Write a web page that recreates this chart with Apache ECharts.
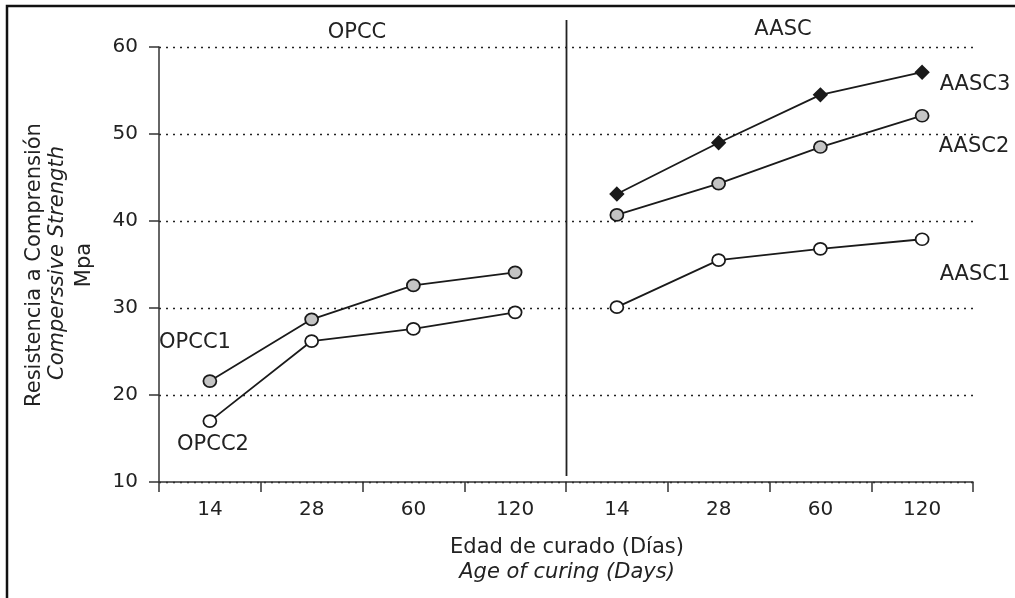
<!DOCTYPE html>
<html>
<head>
<meta charset="utf-8">
<script src="https://cdn.jsdelivr.net/npm/echarts@6/dist/echarts.min.js"></script>
<style>
html,body{margin:0;padding:0;background:#fff;}
#chart{width:1015px;height:598px;}
</style>
</head>
<body>
<div id="chart"></div>
<script>
const dayLabels = ['14', '28', '60', '120', '14', '28', '60', '120'];
const opcc1 = [21.6, 28.7, 32.6, 34.1, null, null, null, null];
const opcc2 = [17.0, 26.2, 27.6, 29.5, null, null, null, null];
const aasc3 = [null, null, null, null, 43.1, 49.0, 54.5, 57.1];
const aasc2 = [null, null, null, null, 40.7, 44.3, 48.5, 52.1];
const aasc1 = [null, null, null, null, 30.1, 35.5, 36.8, 37.9];
const yTicks = { min: 10, max: 60, interval: 10 };

const FONT = 'DejaVu Sans';
const TXT = '#222';
const chart = echarts.init(document.getElementById('chart'), null, { renderer: 'canvas' });

function lineSeries(name, data, symbol, fill, size) {
  return {
    name: name, type: 'line', data: data, symbol: symbol, symbolSize: size,
    connectNulls: false,
    lineStyle: { color: '#1a1a1a', width: 1.8 },
    itemStyle: { color: fill, borderColor: '#1a1a1a', borderWidth: 1.7 },
    animation: false, z: 3
  };
}

const option = {
  animation: false,
  backgroundColor: '#fff',
  grid: { left: 159, right: 42, top: 47, bottom: 116, containLabel: false },
  xAxis: {
    type: 'category',
    data: dayLabels.map((d, i) => String(i)),
    boundaryGap: true,
    axisLine: { lineStyle: { color: '#333', width: 1.5 } },
    axisTick: { show: true, length: 10, lineStyle: { color: '#333', width: 1.5 } },
    axisLabel: {
      formatter: (v, i) => dayLabels[i],
      fontFamily: FONT, fontSize: 20, color: TXT, margin: 18
    },
    splitLine: { show: false }
  },
  yAxis: {
    type: 'value', min: yTicks.min, max: yTicks.max, interval: yTicks.interval,
    axisLine: { show: true, lineStyle: { color: '#333', width: 1.5 } },
    axisTick: { show: true, length: 10, lineStyle: { color: '#333', width: 1.5 } },
    axisLabel: { fontFamily: FONT, fontSize: 20, color: TXT, margin: 21 },
    splitLine: {
      show: true,
      lineStyle: { color: '#222', width: 1.3, type: [2, 5] }
    }
  },
  series: [
    lineSeries('OPCC1', opcc1, 'circle', '#c4c4c4', [13, 12]),
    lineSeries('OPCC2', opcc2, 'circle', '#ffffff', [13, 12]),
    lineSeries('AASC3', aasc3, 'diamond', '#1a1a1a', [13, 13]),
    lineSeries('AASC2', aasc2, 'circle', '#c4c4c4', [13, 12]),
    lineSeries('AASC1', aasc1, 'circle', '#ffffff', [13, 12])
  ]
};
chart.setOption(option);

// separator between the two groups (boundary between category 3 and 4)
const c3 = chart.convertToPixel({ xAxisIndex: 0 }, '3');
const c4 = chart.convertToPixel({ xAxisIndex: 0 }, '4');
const sepX = Math.round((c3 + c4) / 2) + 0.5;

function txt(x, y, s, opts) {
  return Object.assign({
    type: 'text', x: x, y: y,
    style: Object.assign({
      text: s, fontFamily: FONT, fontSize: 21, fill: TXT,
      align: 'center', verticalAlign: 'middle'
    }, (opts && opts.style) || {})
  }, opts && opts.rotation !== undefined ? { rotation: opts.rotation } : {});
}

chart.setOption({
  graphic: [
    { type: 'rect', shape: { x: 7, y: 6, width: 1100, height: 700 },
      style: { fill: null, stroke: '#111', lineWidth: 2.5 }, z: 10 },
    { type: 'line', shape: { x1: sepX, y1: 20, x2: sepX, y2: 476 },
      style: { stroke: '#222', lineWidth: 1.8 }, z: 5 },
    txt(357, 33, 'OPCC'),
    txt(783, 30, 'AASC'),
    txt(195, 343, 'OPCC1'),
    txt(213, 445, 'OPCC2'),
    txt(975, 85, 'AASC3'),
    txt(974, 147, 'AASC2'),
    txt(975, 275, 'AASC1'),
    txt(567, 548, 'Edad de curado (Días)'),
    txt(567, 573, 'Age of curing (Days)', { style: { fontStyle: 'italic' } }),
    txt(35, 265, 'Resistencia a Comprensión', { rotation: Math.PI / 2 }),
    txt(58, 263, 'Comperssive Strength', { rotation: Math.PI / 2, style: { fontStyle: 'italic' } }),
    txt(85, 265, 'Mpa', { rotation: Math.PI / 2 })
  ]
});
</script>
</body>
</html>
